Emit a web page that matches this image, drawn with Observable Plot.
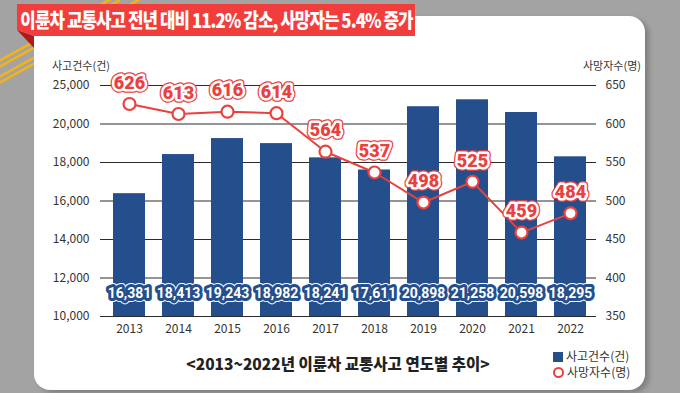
<!DOCTYPE html>
<html>
<head>
<meta charset="utf-8">
<script src="https://cdn.jsdelivr.net/npm/d3@7"></script>
<script src="https://cdn.jsdelivr.net/npm/@observablehq/plot@0.6"></script>
<style>
  html, body { margin: 0; padding: 0; }
  body { width: 680px; height: 393px; overflow: hidden; background: #a3a3a3; font-family: "Noto Sans CJK KR", "Noto Sans", sans-serif; }
  #wrap { position: relative; width: 680px; height: 393px; }
  #deco { position: absolute; left: 0; top: 0; }
  #panel { position: absolute; left: 34px; top: 16px; width: 611px; height: 374px; background: #fff; border-radius: 16px; box-shadow: 4px 3px 5px rgba(0,0,0,0.22); }
  #title { position: absolute; left: 17px; top: 4px; width: 398px; height: 32px; display: flex; align-items: center; justify-content: center; overflow: visible; }
  #title span { display: inline-block; color: #fff; font-weight: 900; font-size: 20px; letter-spacing: -1.1px; white-space: nowrap; transform: scaleX(0.84); transform-origin: center; line-height: 32px; }
  #chart { position: absolute; left: 0; top: 0; }
  .t { position: absolute; color: #333; white-space: nowrap; }
</style>
</head>
<body>
<div id="wrap">
  <svg id="deco" width="680" height="393">
    <g stroke="#f2b21c" stroke-width="2.6" fill="none">
      <line x1="-10" y1="66" x2="120" y2="-6"/>
      <line x1="-10" y1="72" x2="120" y2="0"/>
      <line x1="-10" y1="82" x2="140" y2="-1"/>
      <line x1="-10" y1="88" x2="140" y2="5"/>
    </g>
  </svg>
  <div id="panel"></div>
  <svg id="banner" width="680" height="393" style="position:absolute;left:0;top:0">
    <polygon points="17,30 34,36 34,48" fill="#b0191c"/>
    <polygon points="17,4 415,4 415,36 34,36 17,30" fill="#f23d3d"/>
  </svg>
  <div id="title"><span>이륜차 교통사고 전년 대비 11.2% 감소, 사망자는 5.4% 증가</span></div>
  <div id="chart"></div>
  <div class="t" style="left:52px; top:58px; font-size:11px; line-height:14px;">사고건수(건)</div>
  <div class="t" style="right:39px; top:58px; font-size:11px; line-height:14px;">사망자수(명)</div>
  <div class="t" style="left:0; width:676px; top:352px; font-size:15.5px; font-weight:800; text-align:center; color:#222;">&lt;2013~2022년 이륜차 교통사고 연도별 추이&gt;</div>
  <div class="t" style="left:553px; top:349px; font-size:12px; line-height:14px;">
    <div><span style="display:inline-block;width:10px;height:10px;background:#254f8c;vertical-align:-1px;margin-right:3px"></span>사고건수(건)</div>
    <div style="margin-top:2px"><span style="display:inline-block;width:7px;height:7px;border:2.2px solid #e8413f;border-radius:50%;vertical-align:-1px;margin-right:3px"></span>사망자수(명)</div>
  </div>
</div>
<script>
const years = ["2013","2014","2015","2016","2017","2018","2019","2020","2021","2022"];
const accidents = [16381,18413,19243,18982,18241,17611,20898,21258,20598,18295];
const deaths = [626,613,616,614,564,537,498,525,459,484];
const leftTickValues = [10000,12000,14000,16000,18000,20000,22000];
const leftTickLabels = ["10,000","12,000","14,000","16,000","18,000","20,000","25,000"];
const rightTicks = [350,400,450,500,550,600,650];

// map deaths onto the accident axis (right axis 350–650 spans left 10,000–22,000)
const yMin = leftTickValues[0], yMax = leftTickValues[leftTickValues.length - 1];
const dMin = rightTicks[0], dMax = rightTicks[rightTicks.length - 1];
const toY = v => yMin + (v - dMin) / (dMax - dMin) * (yMax - yMin);

const data = years.map((y, i) => ({year: y, acc: accidents[i], death: deaths[i]}));
const leftMap = new Map(leftTickValues.map((v, i) => [v, leftTickLabels[i]]));
const rightMap = new Map(rightTicks.map(v => [toY(v), String(v)]));

const red = "#e8413f", navy = "#254f8c";
const fmt = d3.format(",");
const numFont = "Roboto, 'Noto Sans', sans-serif";

const chart = Plot.plot({
  width: 680, height: 393,
  marginLeft: 100, marginRight: 84, marginTop: 85, marginBottom: 77,
  style: {background: "transparent", fontFamily: "'Noto Sans CJK KR', 'Noto Sans', sans-serif", color: "#333", overflow: "visible"},
  x: {type: "band", domain: years, range: [93.5, 605.4], padding: 0.353, label: null},
  y: {domain: [yMin, yMax], label: null},
  marks: [
    Plot.ruleY(leftTickValues, {stroke: "#2a2a2a", strokeWidth: 1}),
    Plot.barY(data, {x: "year", y1: yMin, y2: "acc", fill: navy}),
    Plot.ruleY([yMin], {stroke: "#2a2a2a", strokeWidth: 1}),
    Plot.axisY({anchor: "left", ticks: leftTickValues, tickFormat: d => leftMap.get(d), tickSize: 0, tickPadding: 11, fontSize: 12, label: null}),
    Plot.axisY({anchor: "right", ticks: rightTicks.map(toY), tickFormat: d => rightMap.get(d), tickSize: 0, tickPadding: 9, fontSize: 12, label: null}),
    Plot.axisX({tickSize: 0, tickPadding: 8, fontSize: 12, label: null}),
    // bar value labels
    Plot.text(data, {x: "year", frameAnchor: "bottom", dy: -19, text: d => fmt(d.acc), fill: "white", stroke: "white", strokeWidth: 8, strokeLinejoin: "round", fontSize: 14, fontWeight: 700, fontFamily: numFont}),
    Plot.text(data, {x: "year", frameAnchor: "bottom", dy: -19, text: d => fmt(d.acc), fill: "white", stroke: navy, strokeWidth: 6, strokeLinejoin: "round", fontSize: 14, fontWeight: 700, fontFamily: numFont}),
    // deaths line
    Plot.line(data, {x: "year", y: d => toY(d.death), stroke: red, strokeWidth: 2}),
    Plot.dot(data, {x: "year", y: d => toY(d.death), r: 6, fill: "white", stroke: red, strokeWidth: 2.2}),
    Plot.text(data, {x: "year", y: d => toY(d.death), dy: -21, text: d => String(d.death), fill: red, stroke: red, strokeWidth: 7.5, strokeLinejoin: "round", fontSize: 18, fontWeight: 900, fontFamily: numFont}),
    Plot.text(data, {x: "year", y: d => toY(d.death), dy: -21, text: d => String(d.death), fill: red, stroke: "white", strokeWidth: 5, strokeLinejoin: "round", fontSize: 18, fontWeight: 900, fontFamily: numFont})
  ]
});
document.getElementById("chart").appendChild(chart);
</script>
</body>
</html>
